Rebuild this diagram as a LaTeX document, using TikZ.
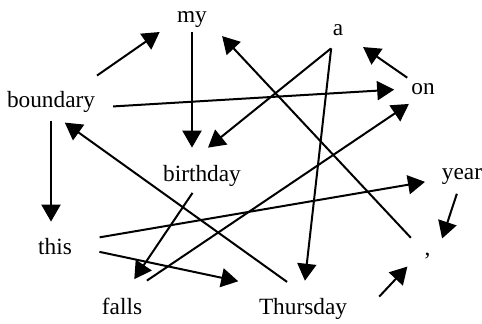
\documentclass[tikz,border=0pt]{standalone}
\usepackage{fontspec}
\setmainfont{Liberation Serif}
\usetikzlibrary{arrows.meta}
\tikzstyle{word} = [font=\fontsize{23.3}{28}\selectfont, inner sep=0pt, anchor=base]
\tikzstyle{link} = [-{Triangle[length=17pt,width=19pt]}, line width=2pt]

\begin{document}
\begin{tikzpicture}[x=1pt, y=-1pt]
	\useasboundingbox (0,0) rectangle (482,324);
	% words
	\node[word] (my) at (192,23) {my};
	\node[word] (a) at (338,35) {a};
	\node[word] (boundary) at (51,107.5) {boundary};
	\node[word] (on) at (423,94) {on};
	\node[word] (birthday) at (202,181) {birthday};
	\node[word] (year) at (462,179) {year};
	\node[word] (this) at (55,254) {this};
	\node[word] (comma) at (427.5,255) {,};
	\node[word] (falls) at (122,314) {falls};
	\node[word] (Thursday) at (303,314) {Thursday};
	% links
	\draw[link, shorten <=56pt, shorten >=21pt] (boundary.base) -- (my.west);
	\draw[link, shorten <=4pt, shorten >=17pt] (my) -- (my |- birthday.north);
	\draw[link, shorten <=9pt, shorten >=24pt] (on) -- (a);
	\draw[link, shorten <=18pt, shorten >=17pt] (boundary.base east) -- (on.west);
	\draw[link] ([xshift=-7pt, yshift=-13pt]a.south) -- ([xshift=6pt, yshift=17pt]birthday.north);
	\draw[link, shorten <=13pt, shorten >=17pt] (a.south west) -- (Thursday.north);
	\draw[link, shorten <=20pt, shorten >=22pt] (comma) -- (my.east);
	\draw[link, shorten <=8pt, shorten >=16pt] (boundary) -- (boundary |- this.north);
	\draw[link, shorten <=27pt, shorten >=17pt] ([xshift=6pt]Thursday.north) -- (boundary.south);
	\draw[link, shorten <=28pt, shorten >=17pt] ([yshift=4pt]this.east) -- (year.base west);
	\draw[link, shorten <=10pt, shorten >=18pt] ([xshift=-2pt]year.south) -- ([xshift=9pt]comma.center);
	\draw[link, shorten <=28pt, shorten >=21pt] (this.east) -- ([yshift=12pt]Thursday.north west);
	\draw[link, shorten <=8pt, shorten >=22pt] ([xshift=-5pt]birthday.south) -- (falls.north);
	\draw[link, shorten <=30pt, shorten >=17pt] (falls.north) -- (on.south);
	\draw[link] ([xshift=32pt, yshift=1pt]Thursday.north east) -- ([xshift=-17pt, yshift=-11pt]comma.west);
\end{tikzpicture}
\end{document}
